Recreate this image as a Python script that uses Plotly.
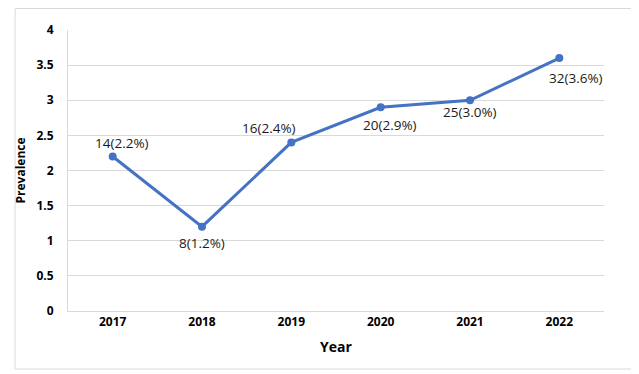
import plotly.graph_objects as go

years = ["2017", "2018", "2019", "2020", "2021", "2022"]
prevalence = [2.2, 1.2, 2.4, 2.9, 3.0, 3.6]
labels = ["14(2.2%)", "8(1.2%)", "16(2.4%)", "20(2.9%)", "25(3.0%)", "32(3.6%)"]
label_dx = [9, 0, -22, 9, 0, 17]
label_dy = [13, -16, 14, -18, -12, -20]

# page has an 8px body margin; compensate so the chart lands where the reference is
OFF = 8
W, H = 639 - OFF, 374 - OFF
L, R, T, B = 62 - OFF, 35, 30 - OFF, 63
pw, ph = W - L - R, H - T - B

fig = go.Figure()
fig.add_trace(go.Scatter(
    x=years, y=prevalence, mode="lines+markers",
    line=dict(color="#4472C4", width=3),
    marker=dict(color="#4472C4", size=8),
    hoverinfo="skip", showlegend=False,
))

for i, (y, t, dx, dy) in enumerate(zip(prevalence, labels, label_dx, label_dy)):
    fig.add_annotation(x=i, y=y, xref="x", yref="y", text=t, showarrow=False,
                       xshift=dx, yshift=dy,
                       font=dict(family="Open Sans, Liberation Sans, sans-serif", size=13.5, color="#1a1a1a"))

def px(x):
    return (x - L) / pw

def py(y):
    return (H - B - y) / ph

fig.add_shape(type="rect", xref="paper", yref="paper",
              x0=px(0.5), x1=px(628), y0=py(0.5), y1=py(361),
              line=dict(color="#d9d9d9", width=1), layer="below")

fig.update_layout(
    width=W, height=H,
    margin=dict(l=L, r=R, t=T, b=B),
    paper_bgcolor="white", plot_bgcolor="white",
    font=dict(family="Open Sans, Liberation Sans, sans-serif", color="#000000"),
    xaxis=dict(
        type="category", range=[-0.5, 5.5],
        showgrid=False, showline=True, linecolor="#d9d9d9", linewidth=1,
        ticks="", tickfont=dict(size=12, family="Open Sans, sans-serif", weight="bold"),
        title=dict(text="<b>Year</b>", font=dict(size=14), standoff=12),
    ),
    yaxis=dict(
        range=[0, 4], dtick=0.5, showgrid=True, gridcolor="#d9d9d9", gridwidth=1,
        showline=True, linecolor="#d9d9d9", linewidth=1, zeroline=False,
        ticks="", tickfont=dict(size=12, family="Open Sans, sans-serif", weight="bold"),
        ticklabelstandoff=11,
        title=dict(text="<b>Prevalence</b>", font=dict(size=12), standoff=8),
    ),
)

fig.write_html("out.html")
